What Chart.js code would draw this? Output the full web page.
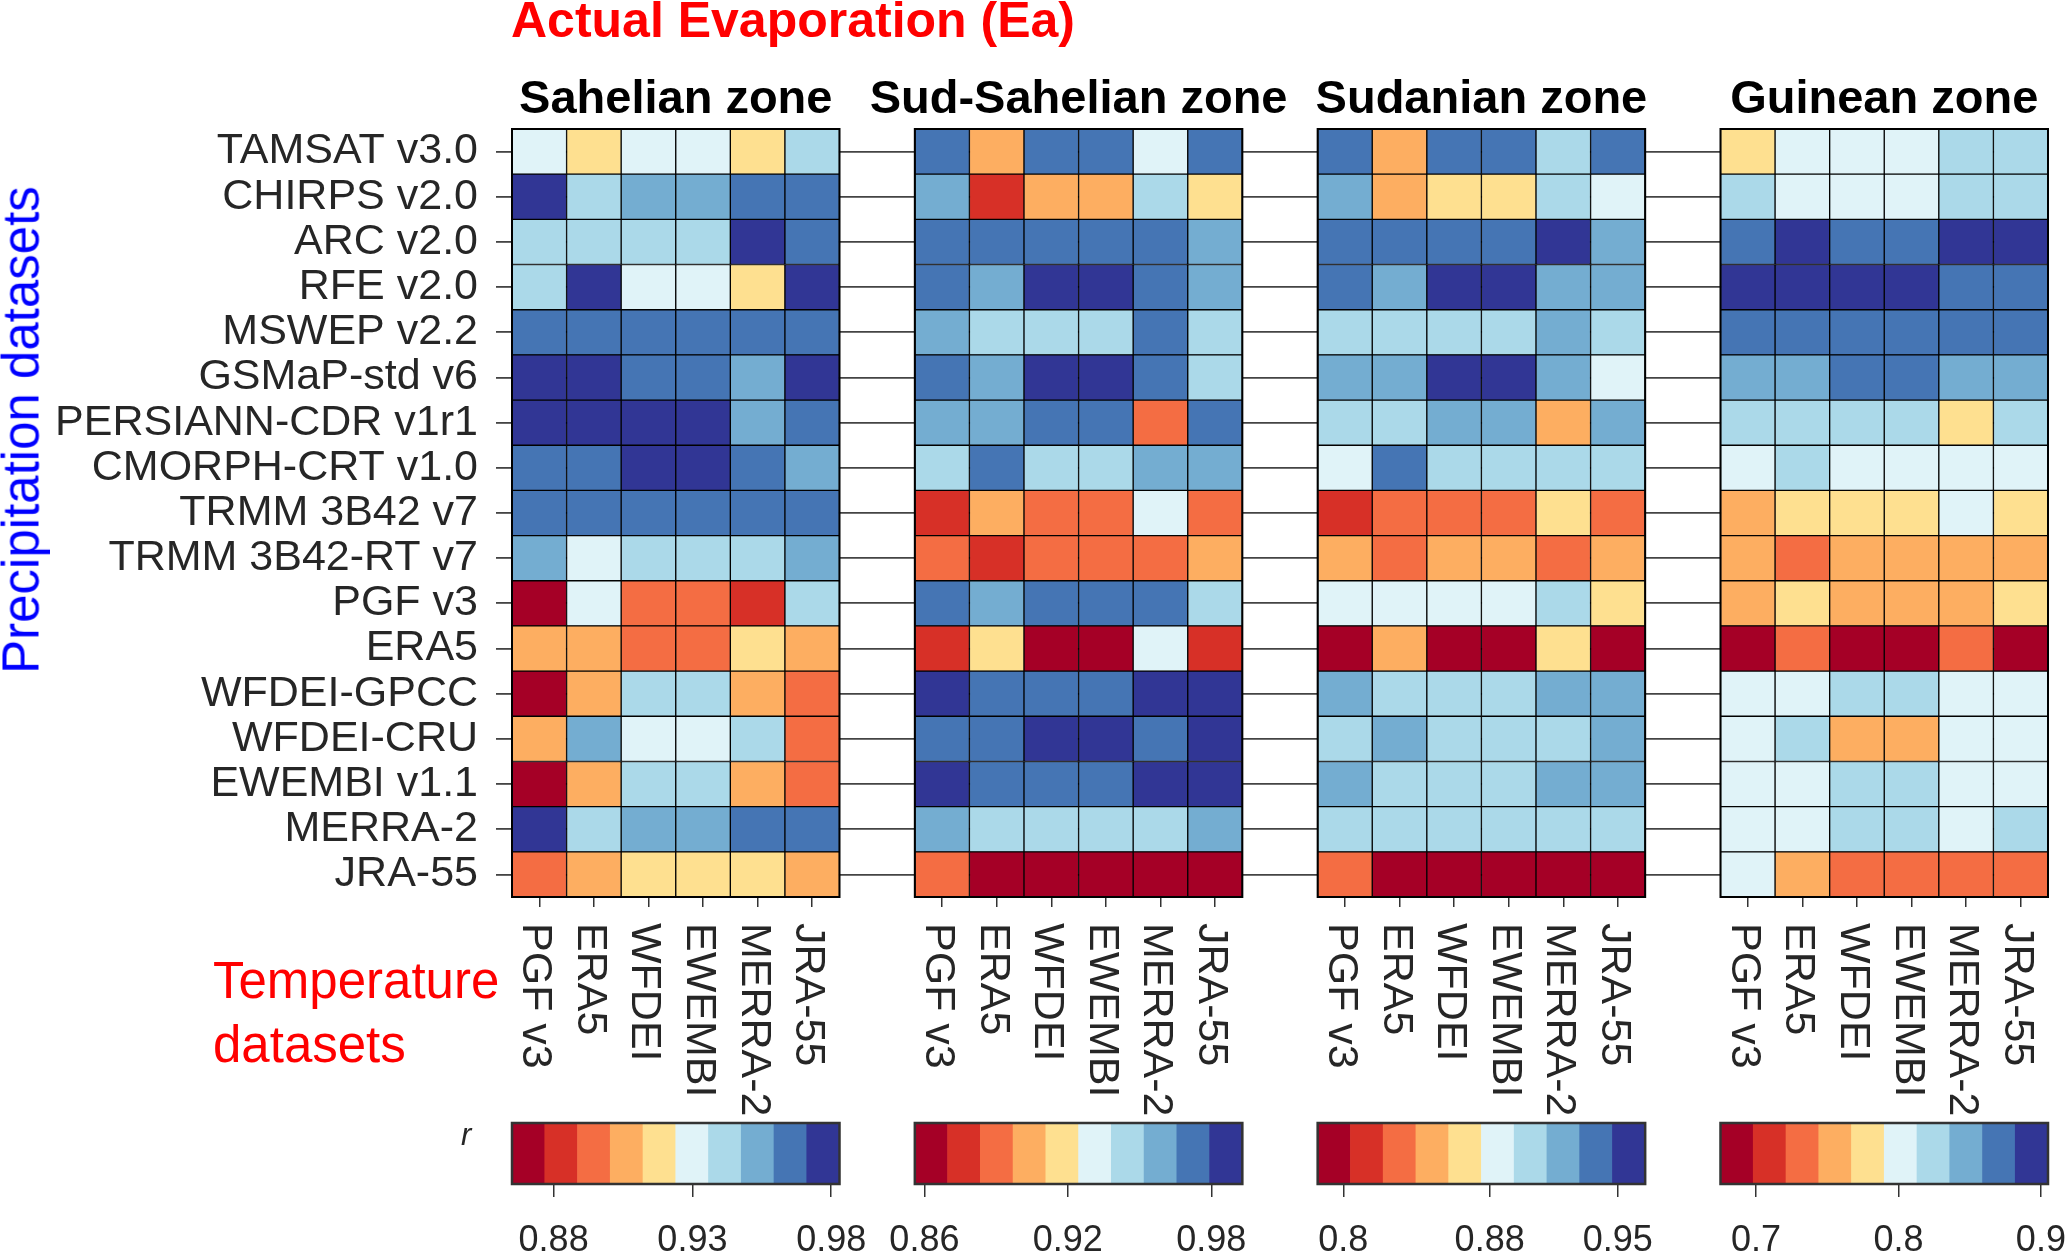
<!DOCTYPE html>
<html>
<head>
<meta charset="utf-8">
<title>Actual Evaporation (Ea)</title>
<script src="https://cdn.jsdelivr.net/npm/chart.js@4.4.1/dist/chart.umd.min.js"></script>
<style>
  html, body { margin: 0; padding: 0; background: #fff; }
  body { width: 2066px; height: 1253px; position: relative; overflow: hidden;
         font-family: "Liberation Sans", Arial, Helvetica, sans-serif; }
  canvas { position: absolute; }
  .txt { position: absolute; line-height: 1; white-space: nowrap; }
  #title { left: 511px; top: -5px; font-size: 50px; font-weight: bold; color: #ff0000; }
  .zone { top: 73px; font-size: 47px; font-weight: bold; color: #000; transform: translateX(-50%); }
  #precip { left: 21px; top: 430px; font-size: 51px; color: #0000ff;
            transform: translate(-50%, -50%) rotate(-90deg); }
  .temp { left: 213px; font-size: 51px; color: #ff0000; }
  #rlabel { left: 461px; top: 1119px; font-size: 31px; font-style: italic; color: #262626; }
</style>
</head>
<body>
<canvas id="main" width="2066" height="1253" style="left:0;top:0;width:2066px;height:1253px"></canvas>
<div id="title" class="txt">Actual Evaporation (Ea)</div>
<div id="precip" class="txt">Precipitation datasets</div>
<div class="txt temp" style="top:955px">Temperature</div>
<div class="txt temp" style="top:1019px">datasets</div>
<div id="rlabel" class="txt">r</div>
<script>
// Rows (precipitation), columns (temperature), panels (zones)
const precipSets = ['TAMSAT v3.0', 'CHIRPS v2.0', 'ARC v2.0', 'RFE v2.0', 'MSWEP v2.2', 'GSMaP-std v6',
    'PERSIANN-CDR v1r1', 'CMORPH-CRT v1.0', 'TRMM 3B42 v7', 'TRMM 3B42-RT v7', 'PGF v3', 'ERA5',
    'WFDEI-GPCC', 'WFDEI-CRU', 'EWEMBI v1.1', 'MERRA-2', 'JRA-55'];
const tempSets = ['PGF v3', 'ERA5', 'WFDEI', 'EWEMBI', 'MERRA-2', 'JRA-55'];
const zoneTitles = ['Sahelian zone', 'Sud-Sahelian zone', 'Sudanian zone', 'Guinean zone'];

// Correlation r, one row per precipitation dataset
const sahelian = [
    [0.930, 0.918, 0.930, 0.930, 0.918, 0.941],
    [0.977, 0.941, 0.953, 0.953, 0.965, 0.965],
    [0.941, 0.941, 0.941, 0.941, 0.977, 0.965],
    [0.941, 0.977, 0.930, 0.930, 0.918, 0.977],
    [0.965, 0.965, 0.965, 0.965, 0.965, 0.965],
    [0.977, 0.977, 0.965, 0.965, 0.953, 0.977],
    [0.977, 0.977, 0.977, 0.977, 0.953, 0.965],
    [0.965, 0.965, 0.977, 0.977, 0.965, 0.953],
    [0.965, 0.965, 0.965, 0.965, 0.965, 0.965],
    [0.953, 0.930, 0.941, 0.941, 0.941, 0.953],
    [0.871, 0.930, 0.894, 0.894, 0.883, 0.941],
    [0.906, 0.906, 0.894, 0.894, 0.918, 0.906],
    [0.871, 0.906, 0.941, 0.941, 0.906, 0.894],
    [0.906, 0.953, 0.930, 0.930, 0.941, 0.894],
    [0.871, 0.906, 0.941, 0.941, 0.906, 0.894],
    [0.977, 0.941, 0.953, 0.953, 0.965, 0.965],
    [0.894, 0.906, 0.918, 0.918, 0.918, 0.906]
];
const sudSahelian = [
    [0.973, 0.905, 0.973, 0.973, 0.932, 0.973],
    [0.960, 0.877, 0.905, 0.905, 0.946, 0.918],
    [0.973, 0.973, 0.973, 0.973, 0.973, 0.960],
    [0.973, 0.960, 0.987, 0.987, 0.973, 0.960],
    [0.960, 0.946, 0.946, 0.946, 0.973, 0.946],
    [0.973, 0.960, 0.987, 0.987, 0.973, 0.946],
    [0.960, 0.960, 0.973, 0.973, 0.891, 0.973],
    [0.946, 0.973, 0.946, 0.946, 0.960, 0.960],
    [0.877, 0.905, 0.891, 0.891, 0.932, 0.891],
    [0.891, 0.877, 0.891, 0.891, 0.891, 0.905],
    [0.973, 0.960, 0.973, 0.973, 0.973, 0.946],
    [0.877, 0.918, 0.864, 0.864, 0.932, 0.877],
    [0.987, 0.973, 0.973, 0.973, 0.987, 0.987],
    [0.973, 0.973, 0.987, 0.987, 0.973, 0.987],
    [0.987, 0.973, 0.973, 0.973, 0.987, 0.987],
    [0.960, 0.946, 0.946, 0.946, 0.946, 0.960],
    [0.891, 0.864, 0.864, 0.864, 0.864, 0.864]
];
const sudanian = [
    [0.939, 0.849, 0.939, 0.939, 0.903, 0.939],
    [0.921, 0.849, 0.867, 0.867, 0.903, 0.885],
    [0.939, 0.939, 0.939, 0.939, 0.957, 0.921],
    [0.939, 0.921, 0.957, 0.957, 0.921, 0.921],
    [0.903, 0.903, 0.903, 0.903, 0.921, 0.903],
    [0.921, 0.921, 0.957, 0.957, 0.921, 0.885],
    [0.903, 0.903, 0.921, 0.921, 0.849, 0.921],
    [0.885, 0.939, 0.903, 0.903, 0.903, 0.903],
    [0.813, 0.831, 0.831, 0.831, 0.867, 0.831],
    [0.849, 0.831, 0.849, 0.849, 0.831, 0.849],
    [0.885, 0.885, 0.885, 0.885, 0.903, 0.867],
    [0.795, 0.849, 0.795, 0.795, 0.867, 0.795],
    [0.921, 0.903, 0.903, 0.903, 0.921, 0.921],
    [0.903, 0.921, 0.903, 0.903, 0.903, 0.921],
    [0.921, 0.903, 0.903, 0.903, 0.921, 0.921],
    [0.903, 0.903, 0.903, 0.903, 0.903, 0.903],
    [0.831, 0.795, 0.795, 0.795, 0.795, 0.795]
];
const guinean = [
    [0.779, 0.802, 0.802, 0.802, 0.825, 0.825],
    [0.825, 0.802, 0.802, 0.802, 0.825, 0.825],
    [0.871, 0.894, 0.871, 0.871, 0.894, 0.894],
    [0.894, 0.894, 0.894, 0.894, 0.871, 0.871],
    [0.871, 0.871, 0.871, 0.871, 0.871, 0.871],
    [0.848, 0.848, 0.871, 0.871, 0.848, 0.848],
    [0.825, 0.825, 0.825, 0.825, 0.779, 0.825],
    [0.802, 0.825, 0.802, 0.802, 0.802, 0.802],
    [0.756, 0.779, 0.779, 0.779, 0.802, 0.779],
    [0.756, 0.733, 0.756, 0.756, 0.756, 0.756],
    [0.756, 0.779, 0.756, 0.756, 0.756, 0.779],
    [0.687, 0.733, 0.687, 0.687, 0.733, 0.687],
    [0.802, 0.802, 0.825, 0.825, 0.802, 0.802],
    [0.802, 0.825, 0.756, 0.756, 0.802, 0.802],
    [0.802, 0.802, 0.825, 0.825, 0.802, 0.802],
    [0.802, 0.802, 0.825, 0.825, 0.802, 0.825],
    [0.802, 0.756, 0.733, 0.733, 0.733, 0.733]
];

// Colour bar limits and tick labels per zone
const cbLimits = [[0.865, 0.983], [0.856, 0.993], [0.786, 0.965], [0.675, 0.905]];
const cbTicks = [[0.88, 0.93, 0.98], [0.86, 0.92, 0.98], [0.8, 0.88, 0.95], [0.7, 0.8, 0.9]];
const rdylbu = ['#a50026', '#d73027', '#f46d43', '#fdae61', '#fee090',
    '#e0f3f8', '#abd9e9', '#74add1', '#4575b4', '#313695'];

const FONT = '"Liberation Sans", Arial, Helvetica, sans-serif';
Chart.defaults.font.family = FONT;
Chart.defaults.color = '#262626';

const zoneData = [sahelian, sudSahelian, sudanian, guinean];
const NCOL = tempSets.length;
const NROW = precipSets.length;
const GAP = 1.38; // blank space between panels, in cell widths

function panelStart(p) {
    return p * (NCOL + GAP);
}

function colourFor(p, v) {
    const lo = cbLimits[p][0], hi = cbLimits[p][1];
    let k = Math.floor((v - lo) / (hi - lo) * rdylbu.length);
    k = Math.max(0, Math.min(rdylbu.length - 1, k));
    return rdylbu[k];
}

const colCentres = [];
zoneData.forEach(function(rows, p) {
    tempSets.forEach(function(name, j) {
        colCentres.push(panelStart(p) + j + 0.5);
    });
});

const datasets = zoneData.map(function(rows, p) {
    const cells = [];
    rows.forEach(function(row, i) {
        row.forEach(function(v, j) {
            cells.push({ x: panelStart(p) + j + 0.5, y: [i, i + 1], v: v });
        });
    });
    return {
        label: zoneTitles[p],
        data: cells,
        backgroundColor: function(ctx) {
            return ctx.raw ? colourFor(p, ctx.raw.v) : '#fff';
        },
        borderColor: '#000',
        borderWidth: 1,
        borderSkipped: false,
        grouped: false,
        barPercentage: 1,
        categoryPercentage: 1
    };
});

// Black frame round each panel
const panelFrames = {
    id: 'panelFrames',
    afterDatasetsDraw(chart) {
        const { ctx, scales: { x, y } } = chart;
        ctx.save();
        ctx.strokeStyle = '#000';
        ctx.lineWidth = 2;
        for (let p = 0; p < zoneData.length; p++) {
            const x0 = x.getPixelForValue(panelStart(p));
            const x1 = x.getPixelForValue(panelStart(p) + NCOL);
            const y0 = y.getPixelForValue(0);
            const y1 = y.getPixelForValue(NROW);
            ctx.strokeRect(x0, y0, x1 - x0, y1 - y0);
        }
        ctx.restore();
    }
};

// Temperature labels, turned to read top to bottom
const xLabels = {
    id: 'xLabels',
    afterDraw(chart) {
        const { ctx, chartArea, scales: { x } } = chart;
        ctx.save();
        ctx.font = '43px ' + FONT;
        ctx.fillStyle = '#262626';
        ctx.textAlign = 'left';
        ctx.textBaseline = 'alphabetic';
        zoneData.forEach(function(rows, p) {
            tempSets.forEach(function(name, j) {
                const px = x.getPixelForValue(panelStart(p) + j + 0.5);
                ctx.save();
                ctx.translate(px - 16, chartArea.bottom + 26);
                ctx.rotate(Math.PI / 2);
                ctx.fillText(name, 0, 0);
                ctx.restore();
            });
        });
        ctx.restore();
    }
};

const mainChart = new Chart(document.getElementById('main'), {
    type: 'bar',
    data: { datasets: datasets },
    options: {
        responsive: false,
        animation: false,
        layout: { padding: { top: 129, right: 18, left: 0, bottom: 0 } },
        plugins: { legend: { display: false }, tooltip: { enabled: false } },
        scales: {
            x: {
                type: 'linear',
                min: 0,
                max: panelStart(zoneData.length - 1) + NCOL,
                bounds: 'data',
                offset: false,
                afterBuildTicks: function(scale) {
                    scale.ticks = colCentres.map(v => ({ value: v }));
                },
                afterFit: function(scale) { scale.height = 356; },
                grid: { offset: false, drawOnChartArea: false, drawTicks: true, tickLength: 10, color: '#333', lineWidth: 1.5 },
                border: { display: false },
                ticks: { display: false }
            },
            y: {
                type: 'linear',
                min: 0,
                max: NROW,
                reverse: true,
                afterBuildTicks: function(scale) {
                    scale.ticks = precipSets.map((name, i) => ({ value: i + 0.5 }));
                },
                afterFit: function(scale) { scale.width = 512; },
                grid: { color: '#444', lineWidth: 1.8, tickLength: 16 },
                border: { display: false },
                ticks: {
                    autoSkip: false,
                    padding: 18,
                    font: { size: 43 },
                    color: '#262626',
                    callback: function(value, index) { return precipSets[index]; }
                }
            }
        }
    },
    plugins: [panelFrames, xLabels]
});

// Zone titles centred over their panels
zoneTitles.forEach(function(name, p) {
    const el = document.createElement('div');
    el.className = 'txt zone';
    el.textContent = name;
    el.style.left = mainChart.scales.x.getPixelForValue(panelStart(p) + NCOL / 2) + 'px';
    document.body.appendChild(el);
});

// Colour bars under each panel
const cbFrame = {
    id: 'cbFrame',
    afterDatasetsDraw(chart) {
        const a = chart.chartArea;
        chart.ctx.save();
        chart.ctx.strokeStyle = '#333';
        chart.ctx.lineWidth = 2.5;
        chart.ctx.strokeRect(a.left, a.top, a.right - a.left, a.bottom - a.top);
        chart.ctx.restore();
    }
};

function drawColourbar(p) {
    const x = mainChart.scales.x;
    const left = x.getPixelForValue(panelStart(p));
    const right = x.getPixelForValue(panelStart(p) + NCOL);
    const canvasLeft = Math.floor(left) - 60;
    const width = Math.ceil(right - canvasLeft) + 60;
    const top = 1100, height = 153;

    const cv = document.createElement('canvas');
    cv.width = width;
    cv.height = height;
    cv.style.left = canvasLeft + 'px';
    cv.style.top = top + 'px';
    cv.style.width = width + 'px';
    cv.style.height = height + 'px';
    document.body.appendChild(cv);

    const lo = cbLimits[p][0], hi = cbLimits[p][1];
    const step = (hi - lo) / rdylbu.length;
    const bins = rdylbu.map((c, k) => ({ x: [lo + k * step, lo + (k + 1) * step], y: 'r' }));

    new Chart(cv, {
        type: 'bar',
        data: {
            labels: ['r'],
            datasets: [{
                data: bins,
                backgroundColor: rdylbu,
                borderWidth: 0,
                grouped: false,
                barPercentage: 1,
                categoryPercentage: 1
            }]
        },
        options: {
            indexAxis: 'y',
            responsive: false,
            animation: false,
            layout: { padding: { left: left - canvasLeft, right: width - (right - canvasLeft), top: 23, bottom: 0 } },
            plugins: { legend: { display: false }, tooltip: { enabled: false } },
            scales: {
                y: { display: false },
                x: {
                    type: 'linear',
                    min: lo,
                    max: hi,
                    bounds: 'data',
                    afterBuildTicks: function(scale) {
                        scale.ticks = cbTicks[p].map(v => ({ value: v }));
                    },
                    afterFit: function(scale) { scale.height = 69; },
                    grid: { drawOnChartArea: false, tickLength: 13, color: '#333', lineWidth: 1.5, offset: false },
                    border: { display: false },
                    ticks: {
                        autoSkip: false,
                        minRotation: 0,
                        maxRotation: 0,
                        padding: 22,
                        font: { size: 36 },
                        color: '#262626',
                        callback: function(value) { return String(value); }
                    }
                }
            }
        },
        plugins: [cbFrame]
    });
}

zoneData.forEach(function(rows, p) {
    drawColourbar(p);
});
</script>
</body>
</html>
